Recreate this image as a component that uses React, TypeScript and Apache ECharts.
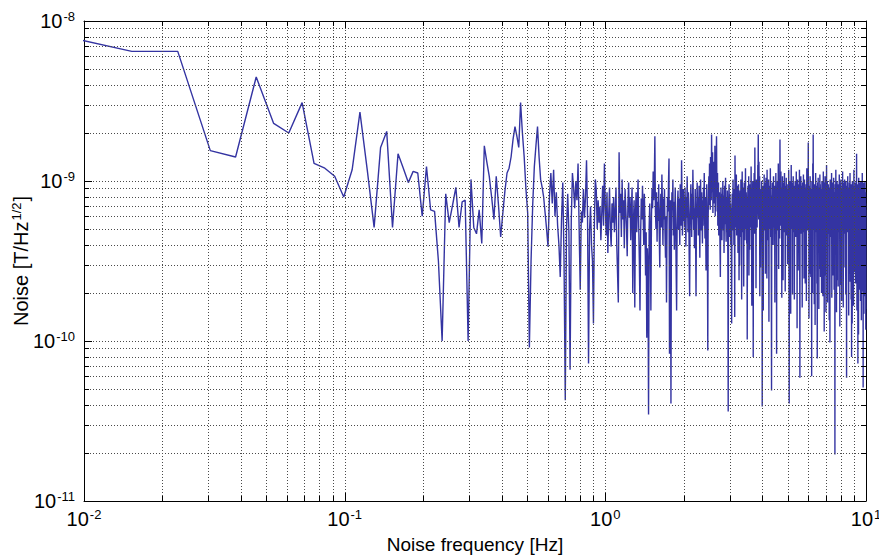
import React, { useEffect, useRef } from 'react';
import * as echarts from 'echarts';

// Spectral bin width of the noise spectrum (Hz); bin k sits at k * FREQ_STEP
const FREQ_STEP = 0.00763;

// Noise amplitude, coded as c = 100 * (log10(value) + 11)
// i.e. 300 -> 1e-8, 200 -> 1e-9, 100 -> 1e-10, 0 -> 1e-11
// bins 1..79
const NOISE_LOW = [
  292, 281, 281, 219, 215, 265, 236, 230, 249, 211,
  208, 203, 190, 207, 243, 207, 171, 221, 231, 171,
  217, 208, 199, 206, 205, 178, 209, 182, 181, 150,
  100, 192, 174, 185, 196, 171, 187, 188, 100, 201,
  171, 167, 182, 161, 222, 212, 203, 190, 176, 203,
  185, 165, 180, 194, 205, 208, 215, 226, 234, 228,
  221, 249, 230, 215, 195, 180, 96, 150, 185, 209,
  222, 234, 215, 201, 196, 190, 180, 170, 159,
];
// bins 80..262
const NOISE_MID = [
  190, 205, 186, 207, 178, 193, 172, 160, 140, 176,
  199, 150, 63, 170, 192, 168, 82, 175, 205, 196,
  183, 200, 188, 211, 170, 132, 181, 174, 195, 177,
  190, 213, 178, 86, 169, 184, 160, 150, 111, 175,
  201, 194, 170, 188, 174, 184, 163, 180, 197, 172,
  211, 185, 166, 193, 155, 178, 196, 170, 159, 186,
  174, 190, 168, 181, 196, 160, 142, 124, 218, 180,
  192, 165, 201, 176, 188, 158, 195, 183, 171, 153,
  186, 199, 177, 190, 163, 182, 196, 130, 174, 188,
  121, 179, 193, 168, 185, 201, 172, 150, 119, 166,
  189, 176, 197, 181, 160, 192, 174, 141, 168, 102,
  158, 147, 54, 171, 186, 163, 119, 178, 195, 183,
  206, 188, 199, 228, 181, 170, 193, 162, 187, 175,
  198, 167, 146, 180, 192, 171, 204, 185, 160, 189,
  176, 195, 168, 152, 178, 124, 172, 190, 181, 199,
  214, 92, 176, 188, 61, 170, 193, 182, 201, 166,
  187, 157, 179, 196, 173, 145, 119, 168, 185, 194,
  170, 189, 178, 160, 198, 184, 172, 213, 190, 166,
  181, 195, 175,
];
// bins 263..400
const NOISE_HIGH_A = [
  188, 171, 196, 182, 159, 190, 177, 203, 185, 168,
  193, 179, 150, 128, 174, 187, 198, 181, 165, 192,
  176, 207, 189, 170, 183, 158, 179, 195, 163, 128,
  172, 186, 199, 177, 190, 166, 182, 197, 174, 152,
  185, 201, 180, 169, 193, 176, 161, 188, 172, 196,
  183, 205, 178, 164, 190, 173, 144, 181, 198, 170,
  149, 94, 176, 192, 203, 185, 211, 196, 182, 215,
  200, 188, 229, 207, 193, 218, 180, 199, 212, 186,
  204, 191, 222, 178, 201, 190, 210, 228, 195, 181,
  205, 172, 189, 199, 166, 184, 193, 175, 158, 140,
  181, 196, 170, 187, 163, 192, 178, 200, 184, 169,
  191, 155, 180, 197, 173, 188, 202, 176, 162, 190,
  181, 168, 194, 177, 143, 56, 171, 189, 198, 180,
  165, 192, 175, 186, 160, 183, 150, 111,
];
// bins 401..1310
const NOISE_HIGH_B = [
  178, 192, 169, 185, 201, 174, 188, 160, 195, 182,
  115, 216, 187, 171, 193, 179, 204, 166, 183, 197,
  172, 189, 155, 180, 198, 186, 138, 192, 147, 177,
  194, 183, 165, 201, 188, 175, 126, 190, 206, 181,
  168, 187, 196, 173, 134, 182, 199, 177, 191, 163,
  185, 208, 179, 170, 193, 184, 161, 176, 101, 172,
  189, 197, 180, 166, 203, 141, 174, 192, 157, 183,
  198, 171, 188, 178, 209, 190, 163, 122, 195, 169,
  184, 200, 176, 90, 173, 191, 186, 205, 179, 167,
  221, 188, 174, 196, 182, 133, 190, 201, 177, 185,
  171, 194, 183, 210, 199, 229, 187, 176, 212, 190,
  180, 203, 128, 195, 186, 146, 179, 192, 173, 188,
  200, 175, 164, 59, 170, 189, 197, 181, 119, 186,
  193, 177, 204, 169, 185, 199, 174, 182, 142, 191,
  178, 202, 187, 166, 190, 139, 207, 172, 184, 196,
  163, 188, 179, 201, 175, 112, 192, 183, 170, 197,
  186, 173, 208, 180, 165, 191, 177, 130, 69, 174,
  189, 199, 182, 168, 194, 185, 160, 179, 203, 176,
  190, 171, 183, 197, 178, 124, 187, 196, 172, 184,
  205, 180, 167, 189, 92, 175, 193, 182, 200, 169,
  186, 177, 195, 211, 184, 145, 190, 198, 176, 188,
  164, 201, 226, 193, 179, 186, 172, 206, 189, 181,
  196, 174, 127, 185, 192, 178, 203, 170, 187, 138,
  180, 194, 183, 168, 199, 176, 189, 205, 182, 171,
  192, 131, 185, 197, 174, 188, 179, 202, 166, 184,
  195, 177, 190, 183, 148, 172, 198, 186, 175, 193,
  181, 207, 169, 134, 61, 178, 191, 184, 200, 173,
  187, 196, 176, 117, 189, 182, 210, 179, 170, 194,
  185, 172, 199, 188, 129, 183, 195, 176, 203, 168,
  190, 181, 174, 197, 186, 126, 177, 192, 184, 171,
  200, 179, 188, 165, 194, 182, 175, 206, 189, 170,
  183, 196, 108, 187, 178, 201, 173, 192, 185, 144,
  176, 189, 198, 181, 169, 193, 184, 207, 172, 135,
  77, 180, 195, 186, 174, 190, 203, 178, 167, 188,
  197, 182, 171, 191, 185, 121, 176, 199, 187, 173,
  192, 180, 168, 204, 183, 175, 194, 139, 186, 178,
  201, 189, 172, 184, 196, 136, 179, 190, 182, 170,
  187, 198, 176, 125, 191, 184, 208, 174, 188, 180,
  195, 169, 183, 199, 177, 190, 224, 185, 172, 193,
  181, 114, 188, 175, 197, 186, 142, 192, 179, 203,
  184, 171, 190, 182, 140, 176, 195, 187, 168, 180,
  78, 189, 200, 174, 186, 193, 180, 130, 211, 188,
  177, 229, 191, 183, 170, 196, 185, 173, 189, 123,
  182, 198, 176, 187, 194, 110, 181, 192, 175, 205,
  186, 168, 190, 179, 197, 183, 172, 188, 136, 194,
  180, 89, 185, 199, 176, 191, 184, 170, 202, 187,
  173, 189, 196, 120, 182, 177, 193, 186, 145, 179,
  191, 204, 174, 185, 198, 181, 140, 190, 183, 171,
  188, 176, 195, 182, 130, 173, 192, 200, 184, 169,
  186, 197, 179, 190, 175, 128, 188, 183, 206, 177,
  193, 170, 185, 199, 181, 106, 189, 176, 194, 184,
  172, 191, 203, 180, 141, 187, 195, 178, 190, 118,
  183, 174, 197, 186, 210, 179, 169, 192, 185, 176,
  200, 188, 124, 182, 194, 177, 189, 171, 184, 198,
  175, 190, 183, 167, 196, 181, 113, 187, 178, 193,
  186, 170, 99, 180, 201, 189, 174, 192, 183, 165,
  191, 178, 197, 185, 172, 188, 205, 176, 127, 184,
  195, 181, 168, 190, 177, 199, 186, 173, 141, 182,
  188, 196, 175, 184, 202, 170, 191, 180, 132, 187,
  179, 193, 183, 171, 148, 29, 176, 189, 198, 185,
  172, 190, 181, 207, 186, 169, 194, 178, 183, 118,
  196, 184, 175, 189, 200, 173, 187, 180, 192, 138,
  185, 177, 198, 182, 134, 190, 174, 186, 195, 179,
  168, 191, 183, 176, 204, 188, 171, 193, 181, 109,
  187, 199, 178, 185, 170, 192, 182, 175, 189, 201,
  135, 184, 196, 180, 173, 188, 125, 179, 191, 186,
  176, 194, 183, 169, 190, 206, 181, 174, 187, 197,
  180, 121, 189, 184, 172, 193, 178, 199, 185, 167,
  191, 182, 175, 188, 201, 170, 186, 179, 146, 183,
  195, 187, 173, 190, 181, 129, 192, 200, 177, 184,
  171, 188, 140, 77, 176, 193, 185, 179, 197, 182,
  174, 190, 186, 168, 203, 181, 175, 192, 184, 170,
  189, 196, 178, 185, 116, 180, 194, 187, 172, 183,
  199, 176, 190, 182, 142, 188, 174, 205, 181, 137,
  186, 193, 179, 171, 191, 184, 177, 198, 126, 185,
  180, 173, 133, 90, 182, 195, 187, 176, 190, 111,
  184, 200, 179, 188, 172, 193, 181, 169, 186, 197,
  175, 189, 183, 122, 178, 192, 185, 207, 180, 171,
  194, 182, 168, 187, 196, 174, 190, 179, 143, 185,
  177, 191, 186, 199, 172, 183, 136, 188, 180, 195,
  184, 170, 192, 178, 189, 217, 181, 174, 187, 119,
  193, 180, 176, 190, 185, 171, 198, 182, 167, 86,
  179, 188, 196, 175, 184, 191, 104, 186, 202, 177,
  189, 173, 183, 194, 180, 137, 187, 199, 176, 190,
  181, 132, 178, 192, 185, 172, 195, 184, 125, 188,
  176, 200, 183, 170, 191, 186, 179, 113, 193, 182,
  187, 174, 196, 180, 169, 189, 183, 205, 178, 131,
  192, 185, 175, 188, 181, 197, 140, 71, 179, 186,
  170, 190, 184, 199, 177, 187, 117, 182, 194, 175,
  189, 180, 172, 196, 185, 128, 178, 191, 183, 200,
  174, 187, 181, 168, 193, 179, 186, 107, 182, 120,
];

// Axis ranges and grid-line positions
const X_MIN = 0.01;
const X_MAX = 10;
const Y_MIN = 1e-11;
const Y_MAX = 1e-8;
const X_MAJOR = [0.1, 1];
const X_MINOR = [
  0.02, 0.03, 0.04, 0.05, 0.06, 0.07, 0.08, 0.09,
  0.2, 0.3, 0.4, 0.5, 0.6, 0.7, 0.8, 0.9,
  2, 3, 4, 5, 6, 7, 8, 9,
];
const Y_MAJOR = [1e-10, 1e-9];
const Y_MINOR = [
  2e-11, 3e-11, 4e-11, 5e-11, 6e-11, 7e-11, 8e-11, 9e-11,
  2e-10, 3e-10, 4e-10, 5e-10, 6e-10, 7e-10, 8e-10, 9e-10,
  2e-9, 3e-9, 4e-9, 5e-9, 6e-9, 7e-9, 8e-9, 9e-9,
];

const X_TITLE = 'Noise frequency [Hz]';
const Y_TITLE_MAIN = 'Noise [T/Hz';
const Y_TITLE_SUP = '1/2';

const FONT = '"Liberation Sans", Arial, Helvetica, sans-serif';
const TEXT_COLOR = '#000';
const LINE_COLOR = '#3434a2';
const GRID_COLOR = '#4a4a4a';

function decode(c: number): number {
  return Math.pow(10, c / 100 - 11);
}

function powLabel(v: number): string {
  const e = Math.round(Math.log10(v));
  return '{b|10}{s|' + e + '}';
}

const RICH = {
  b: { fontSize: 20, fontFamily: FONT, color: TEXT_COLOR, lineHeight: 22 },
  s: { fontSize: 13, fontFamily: FONT, color: TEXT_COLOR, verticalAlign: 'top', lineHeight: 13, padding: [0, 0, 0, 1] },
};

export default function App() {
  const ref = useRef<HTMLDivElement>(null);

  useEffect(() => {
    if (!ref.current) return;
    const chart = echarts.init(ref.current, null, { renderer: 'svg' });

    const codes = [...NOISE_LOW, ...NOISE_MID, ...NOISE_HIGH_A, ...NOISE_HIGH_B];
    const lineData = codes.map((c, i) => [(i + 1) * FREQ_STEP, decode(c)]);

    const xGridData = [
      ...X_MAJOR.map((v) => [v, Y_MIN, 1]),
      ...X_MINOR.map((v) => [v, Y_MIN, 0]),
    ];
    const yGridData = [
      ...Y_MAJOR.map((v) => [X_MIN, v, 1]),
      ...Y_MINOR.map((v) => [X_MIN, v, 0]),
    ];

    const axisCommon = {
      type: 'log',
      logBase: 10,
      axisLine: { show: true, onZero: false, lineStyle: { color: '#000', width: 1 } },
      axisTick: { show: false },
      splitLine: { show: false },
      minorTick: { show: false },
    };

    const option: any = {
      animation: false,
      backgroundColor: '#ffffff',
      grid: {
        left: 84,
        right: 13,
        top: 21,
        bottom: 55,
        containLabel: false,
        outerBoundsMode: 'none',
      },
      xAxis: [
        {
          ...axisCommon,
          min: X_MIN,
          max: X_MAX,
          position: 'bottom',
          axisLabel: {
            formatter: powLabel,
            rich: RICH,
            margin: 7,
            showMinLabel: true,
            showMaxLabel: true,
          },
          name: X_TITLE,
          nameLocation: 'middle',
          nameGap: 34,
          nameMoveOverlap: false,
          nameTextStyle: { fontSize: 19, fontFamily: FONT, color: TEXT_COLOR },
        },
        {
          ...axisCommon,
          min: X_MIN,
          max: X_MAX,
          position: 'top',
          axisLabel: { show: false },
        },
      ],
      yAxis: [
        {
          ...axisCommon,
          min: Y_MIN,
          max: Y_MAX,
          position: 'left',
          axisLabel: {
            formatter: powLabel,
            rich: RICH,
            margin: 9,
            showMinLabel: true,
            showMaxLabel: true,
          },
          name: '{n|' + Y_TITLE_MAIN + '}{s|' + Y_TITLE_SUP + '}{n|]}',
          nameLocation: 'middle',
          nameRotate: 90,
          nameGap: 52,
          nameMoveOverlap: false,
          nameTextStyle: {
            rich: {
              n: { fontSize: 20, fontFamily: FONT, color: TEXT_COLOR, lineHeight: 22 },
              s: { fontSize: 13, fontFamily: FONT, color: TEXT_COLOR, verticalAlign: 'top', lineHeight: 13, padding: [0, 1, 0, 1] },
            },
          },
        },
        {
          ...axisCommon,
          min: Y_MIN,
          max: Y_MAX,
          position: 'right',
          axisLabel: { show: false },
        },
      ],
      series: [
        {
          type: 'line',
          xAxisIndex: 0,
          yAxisIndex: 0,
          data: lineData,
          showSymbol: false,
          symbol: 'none',
          clip: true,
          lineStyle: { color: LINE_COLOR, width: 1.4 },
          z: 2,
          silent: true,
        },
        {
          type: 'custom',
          xAxisIndex: 0,
          yAxisIndex: 0,
          data: xGridData,
          silent: true,
          z: 3,
          clip: false,
          renderItem: (params: any, api: any) => {
            const cs = params.coordSys;
            const p = api.coord([api.value(0), api.value(1)]);
            const x = Math.round(p[0]) + 0.5;
            const top = cs.y;
            const bottom = cs.y + cs.height;
            const t = api.value(2) ? 8 : 5;
            return {
              type: 'group',
              children: [
                { type: 'line', shape: { x1: x, y1: top, x2: x, y2: bottom }, style: { stroke: GRID_COLOR, lineWidth: 1, lineDash: [1, 2] } },
                { type: 'line', shape: { x1: x, y1: bottom, x2: x, y2: bottom - t }, style: { stroke: '#000', lineWidth: 1 } },
                { type: 'line', shape: { x1: x, y1: top, x2: x, y2: top + t }, style: { stroke: '#000', lineWidth: 1 } },
              ],
            };
          },
        },
        {
          type: 'custom',
          xAxisIndex: 0,
          yAxisIndex: 0,
          data: yGridData,
          silent: true,
          z: 3,
          clip: false,
          renderItem: (params: any, api: any) => {
            const cs = params.coordSys;
            const p = api.coord([api.value(0), api.value(1)]);
            const y = Math.round(p[1]) + 0.5;
            const left = cs.x;
            const right = cs.x + cs.width;
            const t = api.value(2) ? 8 : 5;
            return {
              type: 'group',
              children: [
                { type: 'line', shape: { x1: left, y1: y, x2: right, y2: y }, style: { stroke: GRID_COLOR, lineWidth: 1, lineDash: [1, 2] } },
                { type: 'line', shape: { x1: left, y1: y, x2: left + t, y2: y }, style: { stroke: '#000', lineWidth: 1 } },
                { type: 'line', shape: { x1: right, y1: y, x2: right - t, y2: y }, style: { stroke: '#000', lineWidth: 1 } },
              ],
            };
          },
        },
      ],
    };

    chart.setOption(option);
    return () => chart.dispose();
  }, []);

  return (
    <div
      ref={ref}
      style={{ position: 'absolute', left: 0, top: 0, width: 879, height: 556, background: '#fff' }}
    />
  );
}
